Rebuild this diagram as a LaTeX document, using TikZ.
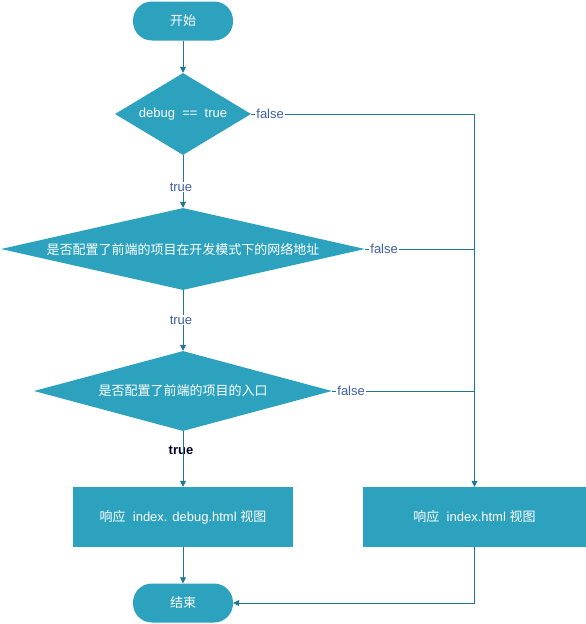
\documentclass[tikz,border=0pt]{standalone}
\usepackage{fontspec}
\setmainfont{Liberation Sans}
\newfontfamily\cjk{Noto Sans CJK SC}
\usetikzlibrary{arrows.meta,shapes.geometric}

\definecolor{boxfill}{HTML}{2DA2BF}
\definecolor{flowline}{HTML}{1F7790}
\definecolor{lbltext}{HTML}{3E5FA6}

\begin{document}
\begin{tikzpicture}[x=1pt, y=-1pt, font=\fontsize{13}{15}\selectfont,
  terminal/.style={fill=boxfill, text=white, rounded corners=19pt, minimum width=100pt, minimum height=39pt},
  decision/.style={diamond, fill=boxfill, text=white, inner sep=0pt},
  process/.style={rectangle, fill=boxfill, text=white, minimum height=60pt},
  flow/.style={flowline, line width=0.8pt, -{Triangle[length=6pt, width=6pt]}},
  link/.style={flowline, line width=0.8pt},
  branch/.style={fill=white, text=lbltext, inner sep=1pt}]
  \useasboundingbox (0,0) rectangle (586,624);

  % 开始 / 结束
  \node[terminal] (start) at (183,21) {\cjk 开始};
  \node[terminal] (end) at (183,603) {\cjk 结束};

  % 判断
  \node[decision, aspect=1.66, minimum width=136pt, minimum height=82pt] (d1) at (183,114) {debug\ \ ==\ \ true};
  \node[decision, aspect=4.44, minimum width=364pt, minimum height=82pt] (d2) at (183,249) {\cjk 是否配置了前端的项目在开发模式下的网络地址};
  \node[decision, aspect=3.72, minimum width=298pt, minimum height=80pt] (d3) at (183,391) {\cjk 是否配置了前端的项目的入口};

  % 视图
  \node[process, minimum width=220pt] (b1) at (183,517) {{\cjk 响应}\ \ index. debug.html {\cjk 视图}};
  \node[process, minimum width=223pt] (b2) at (474.5,517) {{\cjk 响应}\ \ index.html {\cjk 视图}};

  % 线在字上面
  \node[text=black!85!blue, font=\fontsize{13}{15}\selectfont\bfseries] (t3) at (181,450) {true};

  % true 分支
  \draw[flow] (start) -- (d1);
  \draw[flow] (d1) -- (d2);
  \draw[flow] (d2) -- (d3);
  \draw[flow] (d3) -- (b1);
  \draw[flow] (b1) -- (end);

  % false 分支
  \draw[flow] (d1.east) -- (d1.east -| b2.north) -- (b2.north);
  \draw[link] (d2.east) -- (d2.east -| b2.north);
  \draw[link] (d3.east) -- (d3.east -| b2.north);
  \draw[flow] (b2.south) |- (end.east);

  % 标注
  \node[branch, anchor=west, xshift=4pt] (f1) at (d1.east) {false};
  \node[branch, anchor=west, xshift=4pt] (f2) at (d2.east) {false};
  \node[branch, anchor=west, xshift=4pt] (f3) at (d3.east) {false};
  \node[branch] (t1) at (181,187) {true};
  \node[branch] (t2) at (181,320) {true};
\end{tikzpicture}
\end{document}
